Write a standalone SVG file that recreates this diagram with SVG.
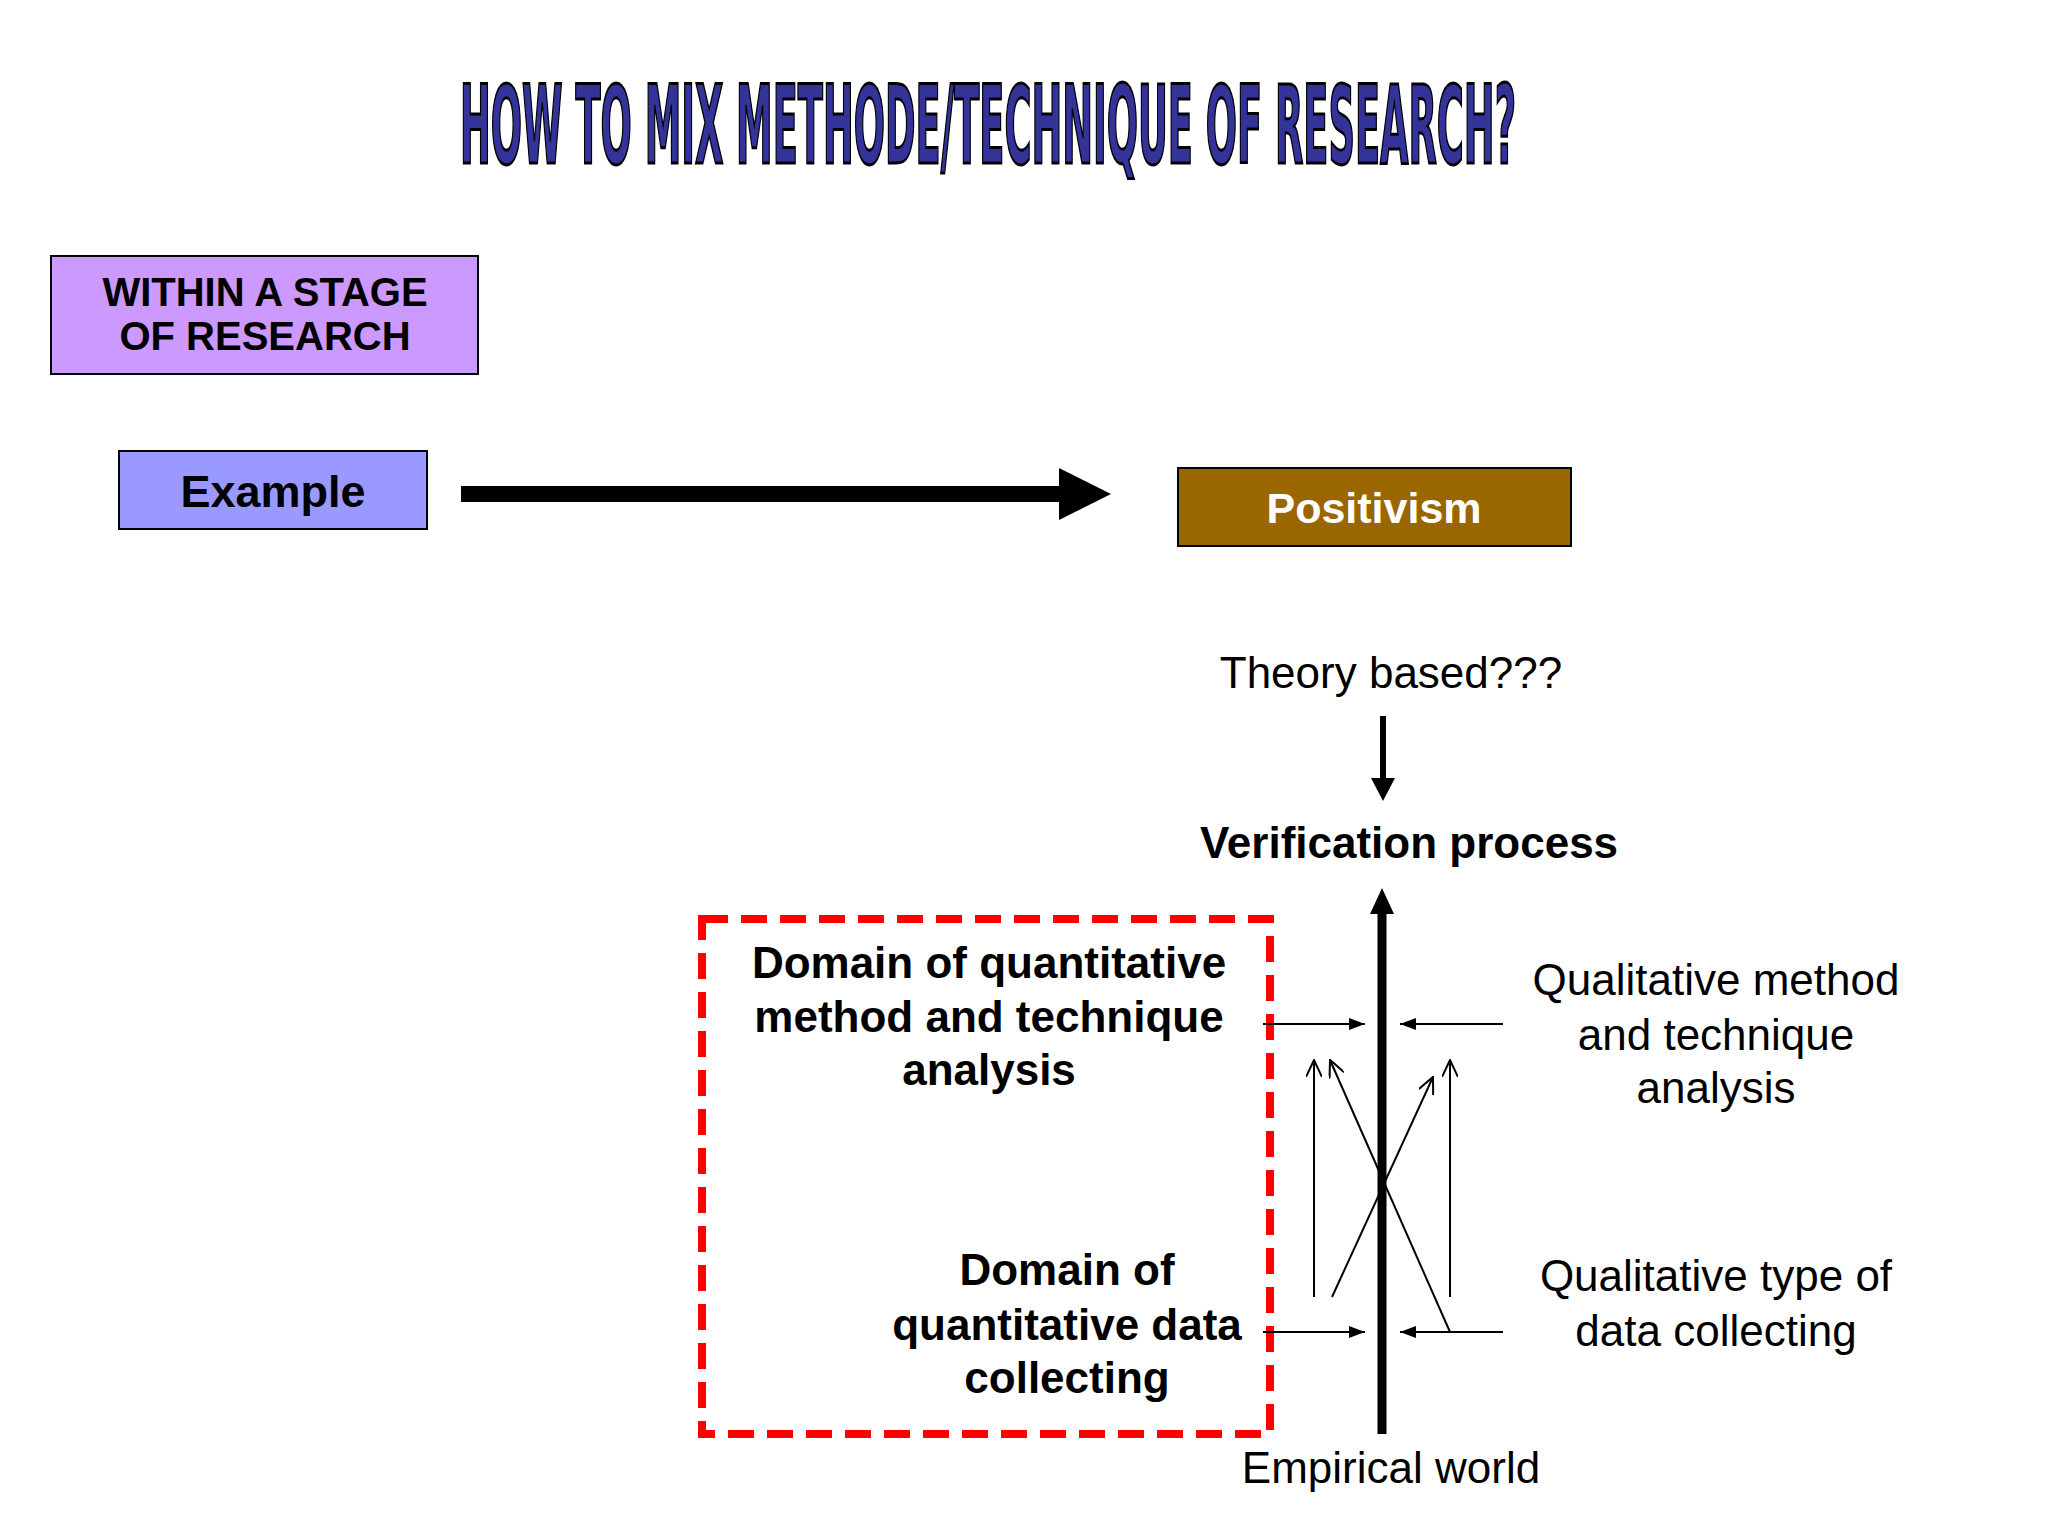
<svg xmlns="http://www.w3.org/2000/svg" width="2048" height="1536" viewBox="0 0 2048 1536">
<style>
text{font-family:"Liberation Sans",Arial,sans-serif;fill:#000;text-anchor:middle}
.b{font-weight:bold}
.t{font-size:44px}
.thin{stroke:#000;stroke-width:2;fill:none}
</style>
<defs>
<marker id="fh2" markerWidth="16" markerHeight="12" refX="16" refY="6" orient="auto" markerUnits="userSpaceOnUse" viewBox="0 0 16 12"><path d="M0,0 L16,6 L0,12 Z" fill="#000"/></marker>
<marker id="oh" markerWidth="18" markerHeight="16" refX="17" refY="8" orient="auto" markerUnits="userSpaceOnUse" viewBox="0 0 18 16"><path d="M0,0 L17,8 L0,16" fill="none" stroke="#000" stroke-width="2"/></marker>
</defs>
<rect width="2048" height="1536" fill="#fff"/>
<text x="988" y="163" font-weight="bold" font-size="108" textLength="1056" lengthAdjust="spacingAndGlyphs" style="fill:#333399;stroke:#000;stroke-width:3;font-family:'DejaVu Sans Condensed',sans-serif">HOW TO MIX METHODE/TECHNIQUE OF RESEARCH?</text>
<g id="within"><rect x="51" y="256" width="427" height="118" fill="#cc99ff" stroke="#000" stroke-width="2"/><text class="b" x="265" y="306" font-size="40">WITHIN A STAGE</text><text class="b" x="265" y="350" font-size="40">OF RESEARCH</text></g>
<g id="example"><rect x="119" y="451" width="308" height="78" fill="#9999ff" stroke="#000" stroke-width="2"/><text class="b" x="273" y="507" font-size="45">Example</text></g>
<g id="positivism"><rect x="1178" y="468" width="393" height="78" fill="#996600" stroke="#000" stroke-width="2"/><text class="b" x="1374" y="523" font-size="43" style="fill:#fff">Positivism</text></g>
<g id="theory"><text class="t" x="1391" y="688">Theory based???</text></g>
<g id="verification"><text class="t b" x="1409" y="858">Verification process</text></g>
<g id="empirical"><text class="t" x="1391" y="1483">Empirical world</text></g>
<g id="quantbox"><rect x="702" y="919" width="568" height="515" fill="none" stroke="#ff0000" stroke-width="8" stroke-dasharray="26,13"/></g>
<g id="quantanalysis"><text class="t b" x="989" y="978">Domain of quantitative</text><text class="t b" x="989" y="1032">method and technique</text><text class="t b" x="989" y="1085">analysis</text></g>
<g id="quantdata"><text class="t b" x="1067" y="1285">Domain of</text><text class="t b" x="1067" y="1340">quantitative data</text><text class="t b" x="1067" y="1393">collecting</text></g>
<g id="qualanalysis"><text class="t" x="1716" y="995">Qualitative method</text><text class="t" x="1716" y="1050">and technique</text><text class="t" x="1716" y="1103">analysis</text></g>
<g id="qualdata"><text class="t" x="1716" y="1291">Qualitative type of</text><text class="t" x="1716" y="1346">data collecting</text></g>
<g id="connectors">
<line x1="461" y1="494" x2="1070" y2="494" stroke="#000" stroke-width="16"/>
<path d="M1059,468 L1111,494 L1059,520 Z" fill="#000"/>
<line x1="1383" y1="716" x2="1383" y2="780" stroke="#000" stroke-width="6"/>
<path d="M1371,778 L1383,801 L1395,778 Z" fill="#000"/>
<line x1="1382" y1="1434" x2="1382" y2="910" stroke="#000" stroke-width="9"/>
<path d="M1370,914 L1382,888 L1394,914 Z" fill="#000"/>
<line class="thin" x1="1263" y1="1024" x2="1365" y2="1024" marker-end="url(#fh2)"/>
<line class="thin" x1="1503" y1="1024" x2="1400" y2="1024" marker-end="url(#fh2)"/>
<line class="thin" x1="1263" y1="1332" x2="1365" y2="1332" marker-end="url(#fh2)"/>
<line class="thin" x1="1503" y1="1332" x2="1400" y2="1332" marker-end="url(#fh2)"/>
<line class="thin" x1="1314" y1="1297" x2="1314" y2="1060" marker-end="url(#oh)"/>
<line class="thin" x1="1332" y1="1297" x2="1433" y2="1077" marker-end="url(#oh)"/>
<line class="thin" x1="1450" y1="1332" x2="1330" y2="1060" marker-end="url(#oh)"/>
<line class="thin" x1="1450" y1="1297" x2="1450" y2="1060" marker-end="url(#oh)"/>
</g>
</svg>
